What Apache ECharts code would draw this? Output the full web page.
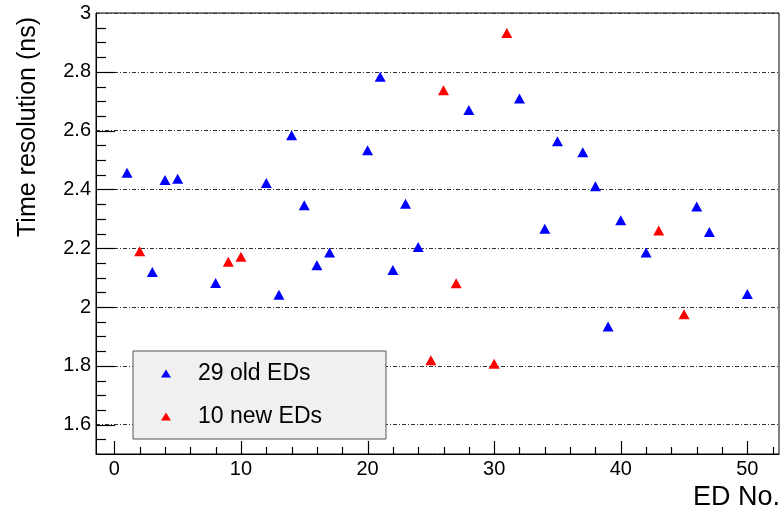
<!DOCTYPE html>
<html>
<head>
<meta charset="utf-8">
<script src="https://cdn.jsdelivr.net/npm/echarts@6/dist/echarts.min.js"></script>
<style>
  html, body { margin: 0; padding: 0; background: #fff; }
  #chart { width: 781px; height: 512px; }
</style>
</head>
<body>
<div id="chart"></div>
<script>
// Time resolution of each ED (ns), grouped by detector batch
const edOld  = [1, 3, 4, 5, 8, 12, 13, 14, 15, 16, 17, 20, 21, 22, 23, 24, 28, 32, 34, 35, 37, 38, 39, 40, 42, 46, 47, 50];
const resOld = [2.457, 2.119, 2.432, 2.436, 2.082, 2.422, 2.042, 2.584, 2.346, 2.142, 2.185, 2.533, 2.783, 2.126, 2.351, 2.204, 2.670, 2.709, 2.266, 2.564, 2.526, 2.411, 1.934, 2.295, 2.185, 2.342, 2.255, 2.044];
const edNew  = [2, 9, 10, 25, 26, 27, 30, 31, 43, 45];
const resNew = [2.190, 2.154, 2.171, 1.819, 2.737, 2.081, 1.807, 2.932, 2.260, 1.975];

const seriesNames = ['29 old EDs', '10 new EDs'];

// Axis tick values
const xMajor = [0, 10, 20, 30, 40, 50];
const xTicks = [0, 2, 4, 6, 8, 10, 12, 14, 16, 18, 20, 22, 24, 26, 28, 30, 32, 34, 36, 38, 40, 42, 44, 46, 48, 50, 52];
const yMajor = [1.6, 1.8, 2, 2.2, 2.4, 2.6, 2.8, 3];
const yTicks = [1.55, 1.6, 1.65, 1.7, 1.75, 1.8, 1.85, 1.9, 1.95, 2, 2.05, 2.1, 2.15, 2.2, 2.25, 2.3, 2.35, 2.4, 2.45, 2.5, 2.55, 2.6, 2.65, 2.7, 2.75, 2.8, 2.85, 2.9, 2.95];

const FONT = 'Liberation Sans, Arial, Helvetica, sans-serif';
const X_MIN = -1.45, X_MAX = 52.5, Y_MIN = 1.5, Y_MAX = 3.0;

const pair = (xs, ys) => xs.map((x, i) => [x, ys[i]]);
const isIn = (list, v) => list.some(m => Math.abs(m - v) < 1e-9);
const crisp = c => Math.round(c) + 0.5;

// Inward tick marks along the bottom and left axes, drawn through the axis scales
function tickSeries(values, onX, majorList, majorLen, minorLen) {
  return {
    type: 'custom', xAxisIndex: 0, yAxisIndex: 0, silent: true, z: 3, clip: false,
    data: onX ? values.map(v => [v, Y_MIN]) : values.map(v => [X_MIN, v]),
    renderItem: (params, api) => {
      const v = onX ? api.value(0) : api.value(1);
      const p = api.coord([api.value(0), api.value(1)]);
      const len = isIn(majorList, v) ? majorLen : minorLen;
      const shape = onX
        ? { x1: crisp(p[0]), y1: p[1], x2: crisp(p[0]), y2: p[1] - len }
        : { x1: p[0], y1: crisp(p[1]), x2: p[0] + len, y2: crisp(p[1]) };
      return { type: 'line', shape, style: { stroke: '#000', lineWidth: 1.2 } };
    }
  };
}

const chart = echarts.init(document.getElementById('chart'), null, { renderer: 'canvas' });

chart.setOption({
  animation: false,
  backgroundColor: '#ffffff',
  textStyle: { fontFamily: FONT },
  grid: {
    left: 96, right: 2, top: 13, bottom: 58,
    show: true, borderColor: '#000', borderWidth: 1,
    outerBoundsMode: 'none'
  },
  xAxis: {
    type: 'value', min: X_MIN, max: X_MAX, position: 'bottom',
    axisLine: { show: true, onZero: false, lineStyle: { color: '#000', width: 1 } },
    axisTick: { show: false },
    axisLabel: { customValues: xMajor, fontSize: 20, color: '#000', margin: 5, fontFamily: FONT },
    splitLine: { show: false }
  },
  yAxis: {
    type: 'value', min: Y_MIN, max: Y_MAX, position: 'left',
    axisLine: { show: true, onZero: false, lineStyle: { color: '#000', width: 1 } },
    axisTick: { show: false, customValues: yMajor },
    axisLabel: { customValues: yMajor, fontSize: 20, color: '#000', margin: 5, fontFamily: FONT },
    splitLine: { show: true, lineStyle: { color: '#333', width: 1, type: [4, 2, 1, 2] } }
  },
  legend: {
    orient: 'vertical',
    left: 133, top: 351,
    padding: [11, 64, 11, 28],
    itemGap: 20,
    itemWidth: 10, itemHeight: 8,
    backgroundColor: '#f0f0f0',
    borderColor: '#555', borderWidth: 1, borderRadius: 0,
    selectedMode: false,
    textStyle: { fontSize: 23, color: '#000', fontFamily: FONT, padding: [0, 0, 0, 22], lineHeight: 20 },
    data: [
      { name: seriesNames[0], icon: 'triangle', itemStyle: { color: '#0000ff', opacity: 1 } },
      { name: seriesNames[1], icon: 'triangle', itemStyle: { color: '#ff0000', opacity: 1 } }
    ]
  },
  series: [
    tickSeries(xTicks, true, xMajor, 13, 7),
    tickSeries(yTicks, false, yMajor, 19, 10),
    {
      name: seriesNames[0], type: 'scatter',
      symbol: 'triangle', symbolSize: [11, 10],
      itemStyle: { color: '#0000ff', opacity: 1 },
      data: pair(edOld, resOld), z: 5
    },
    {
      name: seriesNames[1], type: 'scatter',
      symbol: 'triangle', symbolSize: [11, 10],
      itemStyle: { color: '#ff0000', opacity: 1 },
      data: pair(edNew, resNew), z: 5
    }
  ],
  graphic: [
    {
      type: 'text', x: 28, y: 127, rotation: Math.PI / 2,
      style: { text: 'Time resolution (ns)', fontSize: 25, fontFamily: FONT, fill: '#000', align: 'center', verticalAlign: 'middle' }
    },
    {
      type: 'text', x: 780, y: 498,
      style: { text: 'ED No.', fontSize: 27, fontFamily: FONT, fill: '#000', align: 'right', verticalAlign: 'middle' }
    }
  ]
});
</script>
</body>
</html>
